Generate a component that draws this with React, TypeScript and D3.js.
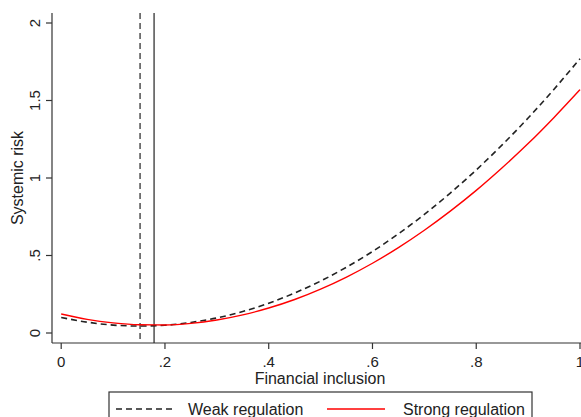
import React, { useEffect, useRef } from "react";
import * as d3 from "d3";

// financial inclusion grid
const inclusion = [0, 0.05, 0.1, 0.15, 0.2, 0.25, 0.3, 0.35, 0.4, 0.45, 0.5, 0.55, 0.6, 0.65, 0.7, 0.75, 0.8, 0.85, 0.9, 0.95, 1.0];
// systemic risk
const weakRisk = [0.100, 0.070, 0.051, 0.045, 0.050, 0.068, 0.097, 0.139, 0.192, 0.258, 0.335, 0.425, 0.526, 0.640, 0.765, 0.903, 1.052, 1.214, 1.387, 1.573, 1.770];
const strongRisk = [0.123, 0.088, 0.065, 0.053, 0.052, 0.062, 0.084, 0.117, 0.161, 0.216, 0.283, 0.361, 0.450, 0.551, 0.663, 0.786, 0.920, 1.066, 1.222, 1.391, 1.570];
// turning points (weak, strong)
const turningPoints = [0.152, 0.179];
const xTicks = [0, 0.2, 0.4, 0.6, 0.8, 1];
const yTicks = [0, 0.5, 1, 1.5, 2];

const W = 581;
const H = 417;

const fmt = (v: number) => (v === 0 ? "0" : v === 1 || v === 2 ? String(v) : String(v).replace(/^0/, ""));

export default function App() {
  const ref = useRef<SVGSVGElement>(null);

  useEffect(() => {
    const svg = d3.select(ref.current);
    svg.selectAll("*").remove();
    const font = "'Liberation Sans', Arial, sans-serif";
    const axisCol = "#333";

    const x = d3.scaleLinear().domain([0, 1]).range([61.2, 580]);
    const y = d3.scaleLinear().domain([0, 2]).range([333, 23]);
    const plotTop = 13;
    const axisY = 343;
    const axisX = 52;

    /** axes */
    svg.append("line").attr("x1", axisX).attr("x2", axisX).attr("y1", plotTop).attr("y2", axisY)
      .attr("stroke", axisCol).attr("stroke-width", 1.2);
    svg.append("line").attr("x1", axisX).attr("x2", W + 5).attr("y1", axisY).attr("y2", axisY)
      .attr("stroke", axisCol).attr("stroke-width", 1.2);

    yTicks.forEach(t => {
      svg.append("line").attr("x1", axisX - 6).attr("x2", axisX).attr("y1", y(t)).attr("y2", y(t))
        .attr("stroke", axisCol).attr("stroke-width", 1.2);
      svg.append("text")
        .attr("transform", `translate(40, ${y(t)}) rotate(-90)`)
        .attr("text-anchor", "middle")
        .attr("font-family", font).attr("font-size", 15).attr("fill", "#222")
        .text(fmt(t));
    });

    xTicks.forEach(t => {
      svg.append("line").attr("x1", x(t)).attr("x2", x(t)).attr("y1", axisY).attr("y2", axisY + 6)
        .attr("stroke", axisCol).attr("stroke-width", 1.2);
      svg.append("text")
        .attr("x", x(t)).attr("y", 367)
        .attr("text-anchor", "middle")
        .attr("font-family", font).attr("font-size", 15).attr("fill", "#222")
        .text(fmt(t));
    });

    svg.append("text")
      .attr("x", 320).attr("y", 384)
      .attr("text-anchor", "middle")
      .attr("font-family", font).attr("font-size", 16).attr("fill", "#222")
      .text("Financial inclusion");

    svg.append("text")
      .attr("transform", `translate(23, 178) rotate(-90)`)
      .attr("text-anchor", "middle")
      .attr("font-family", font).attr("font-size", 16).attr("fill", "#222")
      .text("Systemic risk");

    /** turning point lines */
    turningPoints.forEach((tp, i) => {
      svg.append("line")
        .attr("x1", x(tp)).attr("x2", x(tp)).attr("y1", plotTop).attr("y2", axisY)
        .attr("stroke", "#222").attr("stroke-width", 1.2)
        .attr("stroke-dasharray", i === 0 ? "6,4" : null);
    });

    /** curves */
    const line = d3.line<number>()
      .x((_, i) => x(inclusion[i]))
      .y(d => y(d))
      .curve(d3.curveMonotoneX);

    svg.append("path").attr("d", line(weakRisk)).attr("fill", "none")
      .attr("stroke", "#222").attr("stroke-width", 1.6).attr("stroke-dasharray", "6,4");
    svg.append("path").attr("d", line(strongRisk)).attr("fill", "none")
      .attr("stroke", "#ff0000").attr("stroke-width", 1.4);

    /** legend */
    svg.append("rect").attr("x", 109).attr("y", 392).attr("width", 423).attr("height", 40)
      .attr("fill", "#fff").attr("stroke", axisCol).attr("stroke-width", 1.2);
    svg.append("line").attr("x1", 116).attr("x2", 175).attr("y1", 409).attr("y2", 409)
      .attr("stroke", "#222").attr("stroke-width", 1.6).attr("stroke-dasharray", "6,4");
    svg.append("text").attr("x", 188).attr("y", 415)
      .attr("font-family", font).attr("font-size", 16).attr("fill", "#222")
      .text("Weak regulation");
    svg.append("line").attr("x1", 327).attr("x2", 385).attr("y1", 409).attr("y2", 409)
      .attr("stroke", "#ff0000").attr("stroke-width", 1.4);
    svg.append("text").attr("x", 403).attr("y", 415)
      .attr("font-family", font).attr("font-size", 16).attr("fill", "#222")
      .text("Strong regulation");
  }, []);

  return (
    <svg ref={ref} width={W} height={H}
      style={{ position: "absolute", left: 0, top: 0, background: "#fff" }} />
  );
}
